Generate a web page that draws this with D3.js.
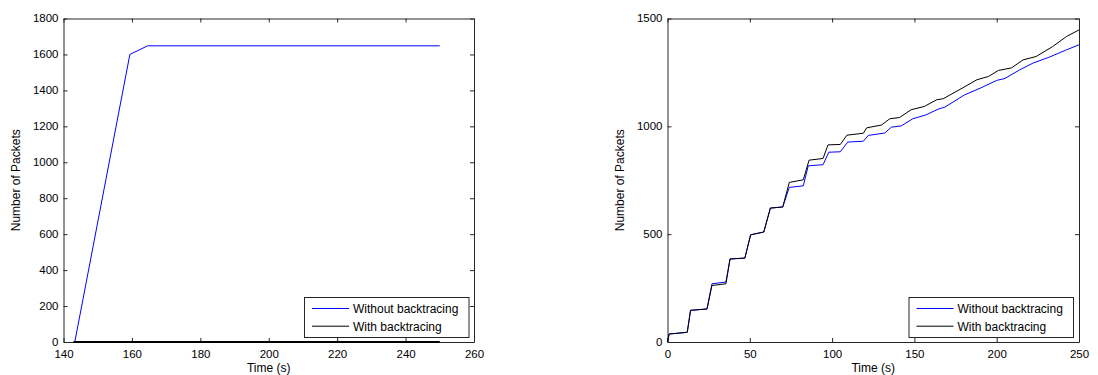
<!DOCTYPE html>
<html><head><meta charset="utf-8">
<script src="https://cdn.jsdelivr.net/npm/d3@7"></script>
<style>body{margin:0;background:#fff}svg{display:block}text{font-family:"Liberation Sans",Arial,sans-serif;fill:#000}</style>
</head><body>
<svg id="c" width="1098" height="375"></svg>
<script>
// Left panel data
const leftXTicks = [140,160,180,200,220,240,260];
const leftYTicks = [0,200,400,600,800,1000,1200,1400,1600,1800];
const leftWithoutT = [143.3,159.4,164.6,250];
const leftWithoutV = [0,1600,1648,1648];
const leftWithT = [142.9,250];
const leftWithV = [0,0];

// Right panel data
const rightXTicks = [0,50,100,150,200,250];
const rightYTicks = [0,500,1000,1500];
const rightWithoutT = [0,1,12,14,24,27,35.5,38,47,50.5,58.5,62.5,70,74,82.5,85.5,94.5,98,105,109.5,119,122,132,136,142,149,157,164.5,168.5,180.5,190,200,205,214,222,232,242.5,250];
const rightWithoutV = [0,37,45,147,153,270,278,385,389,497,510,621,626,717,724,817,822,880,882,927,931,958,969,996,1002,1035,1053,1080,1089,1146,1177,1213,1222,1262,1293,1321,1355,1378];
const rightWithT = [0,1,12,14,24,27,35.5,38,47,50.5,58.5,62.5,70,74,82.5,86,94.5,97.5,105,109,119,121,130,135,141,148,156,163.5,167.5,179.5,188,195,201,209,216,224,234,242.5,250];
const rightWithV = [0,37,45,147,153,262,270,385,389,497,510,621,626,740,752,843,851,914,916,959,968,993,1006,1035,1041,1077,1092,1123,1128,1179,1216,1231,1259,1271,1308,1324,1370,1417,1447];

const seriesNames = ["Without backtracing","With backtracing"];
const seriesColors = ["#0000ff","#000000"];

const svg = d3.select("#c");

function panel(cfg){
  const g = svg.append("g");
  const x = d3.scaleLinear().domain(cfg.xDomain).range([cfg.x0,cfg.x1]);
  const y = d3.scaleLinear().domain(cfg.yDomain).range([cfg.y1,cfg.y0]);
  const tl = 4;
  const bottom = g.append("g").attr("transform",`translate(0,${cfg.y1})`)
    .call(d3.axisBottom(x).tickValues(cfg.xTicks).tickSizeInner(-tl).tickSizeOuter(0).tickPadding(8).tickFormat(d3.format("d")));
  const top = g.append("g").attr("transform",`translate(0,${cfg.y0})`)
    .call(d3.axisTop(x).tickValues(cfg.xTicks).tickSizeInner(-tl).tickSizeOuter(0).tickFormat(""));
  const left = g.append("g").attr("transform",`translate(${cfg.x0},0)`)
    .call(d3.axisLeft(y).tickValues(cfg.yTicks).tickSizeInner(-tl).tickSizeOuter(0).tickPadding(5).tickFormat(d3.format("d")));
  const right = g.append("g").attr("transform",`translate(${cfg.x1},0)`)
    .call(d3.axisRight(y).tickValues(cfg.yTicks).tickSizeInner(-tl).tickSizeOuter(0).tickFormat(""));
  [bottom,top,left,right].forEach(a=>{
    a.selectAll(".domain").attr("stroke","#262626");
    a.selectAll(".tick line").attr("stroke","#262626");
    a.selectAll("text").attr("font-size","11.5px").attr("font-family","Liberation Sans, Arial, sans-serif").attr("fill","#1a1a1a");
  });
  bottom.selectAll("text").attr("dy","0.68em");
  left.selectAll("text").attr("dy","0.28em");
  const line = d3.line().x(d=>x(d[0])).y(d=>y(d[1]));
  cfg.series.forEach((s,i)=>{
    const pts = s.t.map((t,k)=>[t,s.v[k]]);
    g.append("path").datum(pts).attr("d",line).attr("fill","none")
      .attr("stroke",seriesColors[i]).attr("stroke-width",s.w||1);
  });
  g.append("text").attr("x",(cfg.x0+cfg.x1)/2).attr("y",372).attr("text-anchor","middle")
    .attr("font-size","12px").attr("fill","#1a1a1a").text("Time (s)");
  g.append("text").attr("transform",`translate(${cfg.x0-44},${(cfg.y0+cfg.y1)/2}) rotate(-90)`)
    .attr("text-anchor","middle").attr("font-size","12px").attr("fill","#1a1a1a").text("Number of Packets");
  const lx = cfg.legX, ly = 297, lw = 164.5, lh = 40;
  const leg = g.append("g");
  leg.append("rect").attr("x",lx+0.5).attr("y",ly+0.5).attr("width",lw).attr("height",lh)
    .attr("fill","#fff").attr("stroke","#262626");
  seriesNames.forEach((n,i)=>{
    const yy = ly + 11.5 + i*17.7;
    leg.append("line").attr("x1",lx+8).attr("x2",lx+45).attr("y1",yy).attr("y2",yy)
      .attr("stroke",seriesColors[i]).attr("stroke-width",1);
    leg.append("text").attr("x",lx+49).attr("y",yy+4.5).attr("font-size","12px").attr("fill","#1a1a1a").text(n);
  });
}

panel({x0:63.5,x1:474,y0:18.5,y1:342,xDomain:[140,260],yDomain:[0,1800],
  xTicks:leftXTicks,yTicks:leftYTicks,legX:304,
  series:[{t:leftWithoutT,v:leftWithoutV},{t:leftWithT,v:leftWithV,w:2}]});
panel({x0:667.5,x1:1079,y0:18.5,y1:342,xDomain:[0,250],yDomain:[0,1500],
  xTicks:rightXTicks,yTicks:rightYTicks,legX:908.5,
  series:[{t:rightWithoutT,v:rightWithoutV},{t:rightWithT,v:rightWithV}]});
</script>
</body></html>
